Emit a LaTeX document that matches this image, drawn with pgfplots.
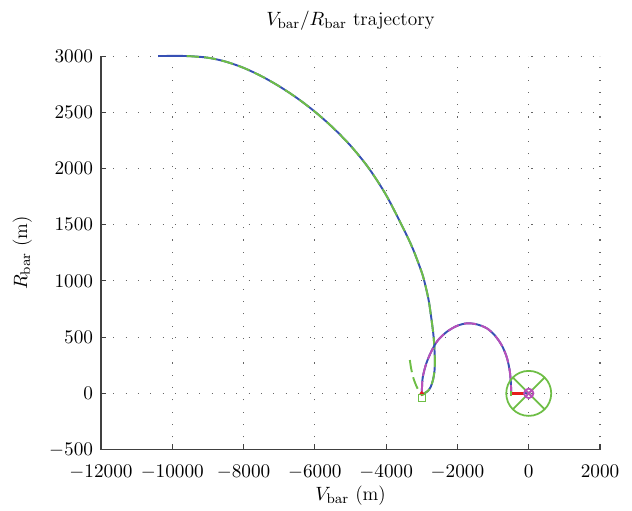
\documentclass[border=0pt]{standalone}
\usepackage{pgfplots}
\pgfplotsset{compat=1.18}
\definecolor{cblue}{RGB}{55,80,180}
\definecolor{cgreen}{RGB}{110,190,70}
\definecolor{cpink}{RGB}{185,80,185}
\definecolor{cred}{RGB}{230,30,30}
\begin{document}
\begin{tikzpicture}[font=\fontsize{11}{13}\selectfont]
\begin{axis}[
  scale only axis,
  width=284pt, height=224pt,
  xmin=-12000, xmax=2000, ymin=-500, ymax=3000,
  xtick={-12000,-10000,...,2000},
  ytick={-500,0,...,3000},
  scaled ticks=false,
  /pgf/number format/1000 sep={},
  axis x line*=bottom, axis y line*=left,
  axis line style={black!75, line width=0.8pt},
  tick style={black!75, line width=0.6pt},
  tick align=inside,
  major tick length=3pt,
  grid=major,
  major grid style={black!60, line width=0.6pt, dash pattern=on 0.6pt off 6.4pt},
  ticklabel style={font=\fontsize{11}{13}\selectfont},
  label style={font=\fontsize{11}{13}\selectfont},
  xticklabel style={yshift=-5.5pt},
  yticklabel style={xshift=-1pt},
  title style={font=\fontsize{11}{13}\selectfont, yshift=5pt},
  xlabel style={yshift=3pt},
  ylabel style={yshift=3pt},
  title={$V_{\mathrm{bar}}/R_{\mathrm{bar}}$ trajectory},
  xlabel={$V_{\mathrm{bar}}$ (m)},
  ylabel={$R_{\mathrm{bar}}$ (m)},
  clip=false,
]
\pgfplotstableread{
x y
-10400 3000
-9600 3000
-9000 2985
-8500 2950
-8000 2895
-7500 2821
-7000 2731
-6500 2626
-6000 2505
-5500 2365
-5000 2203
-4500 2008
-4000 1763
-3500 1455
-3250 1285
-3000 1075
-2900 960
-2800 815
-2700 590
-2660 470
-2640 360
-2634 270
-2647 190
-2689 116
-2750 58
-2829 22
-2920 2
-3000 -8
}\arcone
\pgfplotstableread{
x y
-9600 3000
-9000 2985
-8500 2950
-8000 2895
-7500 2821
-7000 2731
-6500 2626
-6000 2505
-5500 2365
-5000 2203
-4500 2008
-4000 1763
-3500 1455
-3250 1285
-3000 1075
-2900 960
-2800 815
-2700 590
-2660 470
-2640 360
-2634 270
-2647 190
-2689 116
-2750 58
-2829 22
-2920 2
-3000 -15
-3130 50
-3240 140
-3305 232
-3350 330
}\arconegreen
\pgfplotstableread{
x y
-3000 0
-2975 140
-2870 270
-2717 383
-2549 472
-2297 548
-2017 600
-1737 623
-1457 614
-1176 579
-952 516
-756 427
-616 321
-535 205
-500 89
-495 0
}\arctwo
% first arc: blue solid
\addplot[cblue, line width=1.1pt, smooth, tension=0.5] table {\arcone};
% first arc: green dashed overlay with continuation
\addplot[cgreen, line width=1.1pt, smooth, tension=0.5, dash pattern=on 7pt off 3pt] table {\arconegreen};
% second arc: blue solid + pink dashed overlay
\addplot[cblue, line width=1.1pt, smooth, tension=0.5] table {\arctwo};
\addplot[cpink, line width=1.1pt, smooth, tension=0.5, dash pattern=on 7pt off 3pt] table {\arctwo};
% final approach
\addplot[cblue, line width=1.1pt] coordinates {(-495,0) (0,0)};
\addplot[cred, line width=1.4pt] coordinates {(-495,0) (-110,0)};
\addplot[cred, only marks, mark=*, mark size=1pt] coordinates {(-3000,0)};
\addplot[cgreen, line width=1.2pt] coordinates {(-495,-25) (-495,25)};
% markers
\addplot[cgreen, only marks, mark=square, mark size=2pt, line width=0.8pt] coordinates {(-3000,-40)};
\addplot[cgreen, only marks, mark=otimes, mark size=12.8pt, line width=1pt] coordinates {(0,0)};
\addplot[cpink, only marks, mark=otimes, mark size=2.7pt, line width=1pt] coordinates {(0,0)};
\end{axis}
\pgfresetboundingbox
\path ([shift={(-57.5pt,-34.7pt)}]current axis.south west) rectangle ([shift={(18.2pt,31.9pt)}]current axis.north east);
\end{tikzpicture}
\end{document}
